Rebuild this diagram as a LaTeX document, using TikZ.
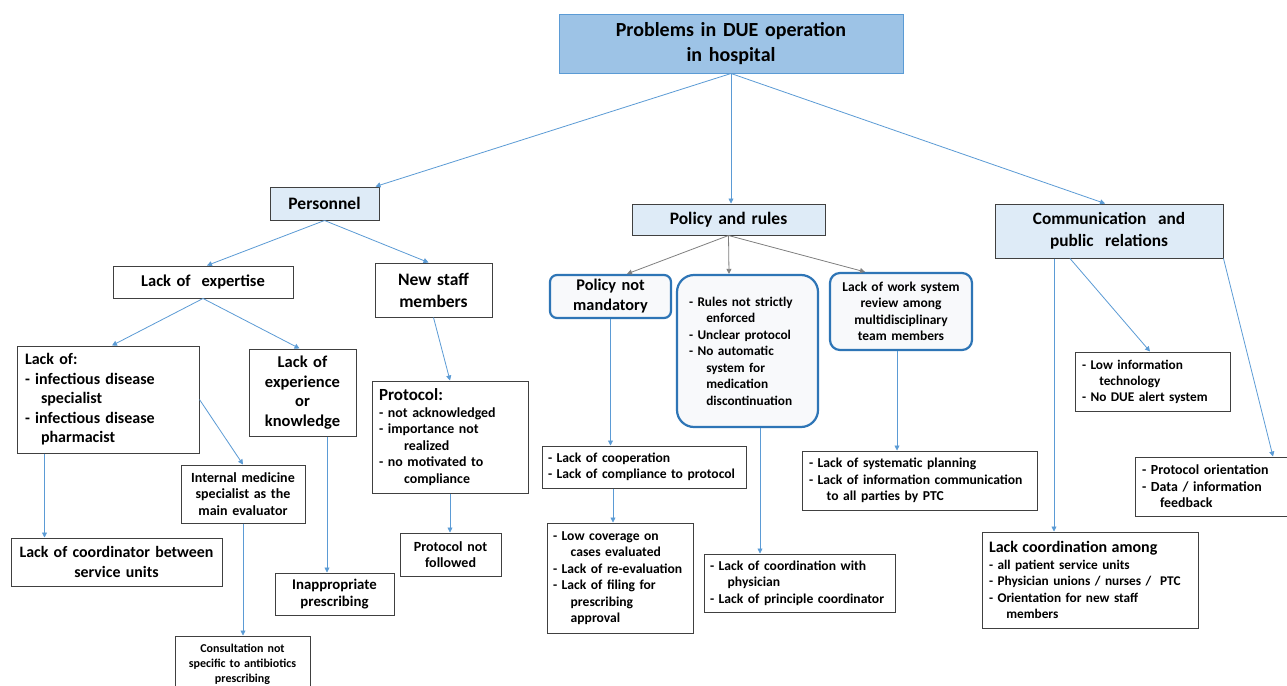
\documentclass[tikz,border=0pt]{standalone}
\usepackage{fontspec}
\setmainfont{Carlito}
\usetikzlibrary{arrows.meta}
\definecolor{arrblue}{HTML}{5B9BD5}
\definecolor{arrgray}{HTML}{7F7F7F}
\definecolor{boxline}{HTML}{404040}
\definecolor{topfill}{HTML}{9DC3E6}
\definecolor{topline}{HTML}{5B9BD5}
\definecolor{catfill}{HTML}{DEEBF7}
\definecolor{rndline}{HTML}{2E75B6}
\definecolor{rndfill}{HTML}{F8F9FB}
\newcommand\ind{\hspace*{1.3em}}
\newcommand\indd{\hspace*{1.8em}}
\newcommand\indl{\hspace*{1.0em}}
\newcommand\fs[2]{\fontsize{#1}{#2}\selectfont}
\newcommand\ml[1]{\mbox{#1}}
\begin{document}
\begin{tikzpicture}[x=1pt,y=-1pt,
  base/.style={inner ysep=0pt, text=black},
  plainbox/.style={base, draw=boxline, line width=1pt, fill=white},
  catbox/.style={base, draw=boxline, line width=1pt, fill=catfill, align=center},
  topbox/.style={base, draw=topline, line width=1pt, fill=topfill, align=center},
  rndbox/.style={base, draw=rndline, line width=2.2pt, fill=rndfill},
  arr/.style={-{Triangle[width=5pt,length=5pt]}, draw=arrblue, line width=0.8pt},
  garr/.style={arr, draw=arrgray}
]
\useasboundingbox[fill=white] (0,0) rectangle (1287,685);

% level 0
\node[topbox, inner xsep=10pt, text width=324pt, minimum height=58pt, font=\bfseries\fs{20}{25}] (top) at (731,44)
  {Problems in DUE operation\\in hospital};

% level 1
\node[catbox, inner xsep=4pt, text width=101pt, minimum height=33pt, font=\bfseries\fs{17.5}{18}] (pers) at (324.5,203.5) {Personnel};
\node[catbox, inner xsep=5pt, text width=183pt, minimum height=31pt, font=\bfseries\fs{17.5}{18}] (pol) at (728.5,219.5) {Policy and rules};
\node[catbox, inner xsep=5pt, text width=218pt, minimum height=54pt, font=\bfseries\fs{17.3}{22}] (comm) at (1109,231) {Communication\ \ and\\public\ \ relations};

% personnel branch
\node[plainbox, align=center, inner xsep=5pt, text width=170pt, minimum height=32pt, font=\bfseries\fs{16.5}{18}] (exp) at (203,282) {Lack of\ \ expertise};
\node[plainbox, align=center, inner xsep=5pt, text width=107pt, minimum height=54pt, font=\bfseries\fs{17.5}{22}] (newstaff) at (433.5,290) {New staff\\members};
\node[plainbox, align=left, inner xsep=8pt, text width=166pt, minimum height=107pt, font=\bfseries\fs{16}{19.5}] (lackof) at (108,399.5)
  {\ml{Lack of:}\\\ml{- infectious disease}\\\ml{\indl specialist}\\\ml{- infectious disease}\\\ml{\indl pharmacist}};
\node[plainbox, align=center, inner xsep=3pt, text width=101pt, minimum height=87pt, font=\bfseries\fs{16.5}{19.5}] (lexp) at (302.5,392.5)
  {Lack of\\experience\\or\\knowledge};
\node[plainbox, align=center, inner xsep=3pt, text width=118pt, minimum height=58pt, font=\bfseries\fs{14}{16.5}] (intmed) at (243,494)
  {Internal medicine\\specialist as the\\main evaluator};
\node[plainbox, align=center, inner xsep=2pt, text width=207pt, minimum height=48pt, font=\bfseries\fs{15.9}{20}] (coordsu) at (116.5,562)
  {Lack of coordinator between\\service units};
\node[plainbox, align=center, inner xsep=4pt, text width=111pt, minimum height=42pt, font=\bfseries\fs{14.8}{16.5}] (inapp) at (334.5,594)
  {Inappropriate\\prescribing};
\node[plainbox, align=center, inner xsep=3pt, text width=129pt, minimum height=56pt, font=\bfseries\fs{12}{15}] (consult) at (242.5,664)
  {Consultation not\\specific to antibiotics\\prescribing};
\node[plainbox, align=left, inner xsep=7pt, text width=142pt, minimum height=112pt, font=\bfseries\fs{13.9}{16.5}] (protocol) at (450,437)
  {\ml{\fs{17}{16.5}Protocol:}\\\ml{- not acknowledged}\\\ml{- importance not}\\\ml{\indd realized}\\\ml{- no motivated to}\\\ml{\indd compliance}};
\node[plainbox, align=center, inner xsep=3pt, text width=95pt, minimum height=43pt, font=\bfseries\fs{14}{16.5}] (pnf) at (450.5,554.5)
  {Protocol not\\followed};

% policy branch
\node[rndbox, rounded corners=7pt, align=center, inner xsep=4pt, text width=113pt, minimum height=43pt, font=\bfseries\fs{16.3}{20}] (pnm) at (610.5,296.5)
  {Policy not\\mandatory};
\node[rndbox, rounded corners=17pt, align=left, inner xsep=12pt, text width=117pt, minimum height=152pt, font=\bfseries\fs{13.3}{16.5}] (rules) at (747.5,351)
  {\ml{- Rules not strictly}\\\ml{\ind enforced}\\\ml{- Unclear protocol}\\\ml{- No automatic}\\\ml{\ind system for}\\\ml{\ind medication}\\\ml{\ind discontinuation}};
\node[rndbox, rounded corners=10pt, align=center, inner xsep=3pt, text width=136pt, minimum height=77pt, font=\bfseries\fs{13.5}{16.5}] (work) at (901,311.5)
  {Lack of work system\\review among\\multidisciplinary\\team members};
\node[plainbox, align=left, inner xsep=6pt, text width=192pt, minimum height=42pt, font=\bfseries\fs{13.6}{16}] (coop) at (644,467)
  {\ml{- Lack of cooperation}\\\ml{- Lack of compliance to protocol}};
\node[plainbox, align=left, inner xsep=6pt, text width=134pt, minimum height=110pt, font=\bfseries\fs{13.6}{16.5}] (lowcov) at (620,578)
  {\ml{- Low coverage on}\\\ml{\ind cases evaluated}\\\ml{- Lack of re-evaluation}\\\ml{- Lack of filing for}\\\ml{\ind prescribing}\\\ml{\ind approval}};
\node[plainbox, align=left, inner xsep=6pt, text width=179pt, minimum height=58pt, font=\bfseries\fs{13.6}{16.5}] (coordphys) at (799.5,583)
  {\ml{- Lack of coordination with}\\\ml{\ind physician}\\\ml{- Lack of principle coordinator}};
\node[plainbox, align=left, inner xsep=7pt, text width=221pt, minimum height=59pt, font=\bfseries\fs{13.6}{16.5}] (sysplan) at (919.5,480.5)
  {\ml{- Lack of systematic planning}\\\ml{- Lack of information communication}\\\ml{\ind to all parties by PTC}};

% communication branch
\node[plainbox, align=left, inner xsep=7pt, text width=141pt, minimum height=59pt, font=\bfseries\fs{13.3}{16}] (lowinfo) at (1152.5,381.5)
  {\ml{- Low information}\\\ml{\ind technology}\\\ml{- No DUE alert system}};
\node[plainbox, align=left, inner xsep=7pt, text width=141pt, minimum height=59pt, font=\bfseries\fs{13.9}{16.5}] (protor) at (1212.5,486.5)
  {\ml{- Protocol orientation}\\\ml{- Data / information}\\\ml{\ind feedback}};
\node[plainbox, align=left, inner xsep=7pt, text width=202pt, minimum height=96pt, font=\bfseries\fs{13.3}{16.5}] (lcoord) at (1090,580)
  {\ml{\fs{16}{16.5}Lack coordination among}\\\ml{- all patient service units}\\\ml{- Physician unions / nurses /\ \ PTC}\\\ml{- Orientation for new staff}\\\ml{\ind members}};

% connectors from root
\draw[arr] (top.south) -- ([xshift=-4pt]pers.north east);
\draw[arr] (top.south) -- (top.south |- pol.north);
\draw[arr] (top.south) -- ([xshift=-4pt]comm.north);

% personnel
\draw[arr] (pers.south) -- ([xshift=4pt]exp.north);
\draw[arr] (pers.south) -- ([xshift=-5pt]newstaff.north);
\draw[arr] (exp.south) -- ([xshift=4pt]lackof.north);
\draw[arr] (exp.south) -- ([xshift=-3pt]lexp.north);
\draw[arr] ([xshift=28pt]lackof.south west) -- ([xshift=34pt]coordsu.north west);
\draw[arr] (lackof.east) -- (intmed.north);
\draw[arr] (intmed.south) -- (intmed.south |- consult.north);
\draw[arr] ([xshift=24.5pt]lexp.south) -- ([xshift=-7.5pt]inapp.north);
\draw[arr] (newstaff.south) -- (protocol.north);
\draw[arr] (protocol.south) -- (protocol.south |- pnf.north);

% policy
\draw[garr] (pol.south) -- ([xshift=16.5pt]pnm.north);
\draw[garr] (pol.south) -- ([xshift=-18.5pt]rules.north);
\draw[garr] (pol.south) -- ([xshift=-36pt]work.north);
\draw[arr] (pnm.south) -- (pnm.south |- coop.north);
\draw[arr] ([xshift=-31pt]coop.south) -- ([xshift=-7pt]lowcov.north);
\draw[arr] ([xshift=12.5pt]rules.south) -- ([xshift=-39.5pt]coordphys.north);
\draw[arr] ([xshift=-4pt]work.south) -- ([xshift=-22.5pt]sysplan.north);

% communication
\draw[arr] ([xshift=-55pt]comm.south) -- ([xshift=-36pt]lcoord.north);
\draw[arr] ([xshift=-39pt]comm.south) -- ([xshift=-2.5pt]lowinfo.north);
\draw[arr] (comm.south east) -- ([xshift=60.5pt]protor.north);
\end{tikzpicture}
\end{document}
